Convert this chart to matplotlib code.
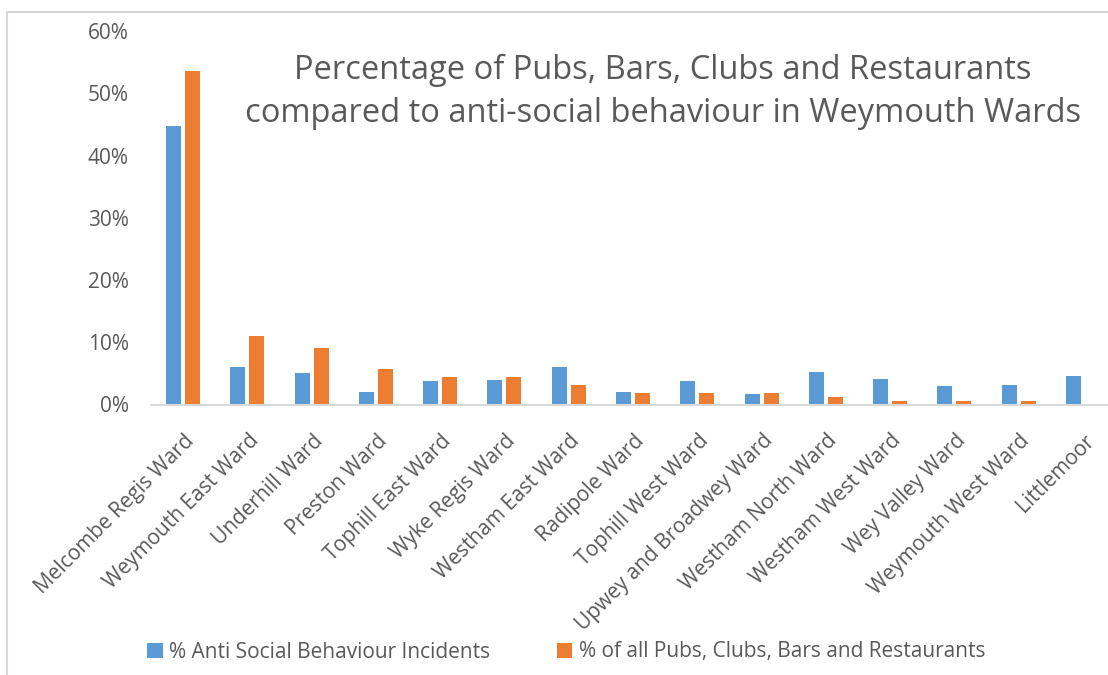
import matplotlib.pyplot as plt
import numpy as np
from matplotlib.patches import Rectangle
from matplotlib.ticker import FuncFormatter
from matplotlib.transforms import ScaledTranslation

plt.rcParams['font.family'] = ['Open Sans', 'DejaVu Sans']

wards = ['Melcombe Regis Ward', 'Weymouth East Ward', 'Underhill Ward', 'Preston Ward',
         'Tophill East Ward', 'Wyke Regis Ward', 'Westham East Ward', 'Radipole Ward',
         'Tophill West Ward', 'Upwey and Broadwey Ward', 'Westham North Ward',
         'Westham West Ward', 'Wey Valley Ward', 'Weymouth West Ward', 'Littlemoor']
asb_pct = [44.7, 6.0, 5.1, 2.0, 3.8, 3.9, 6.0, 2.0, 3.8, 1.7, 5.2, 4.1, 3.0, 3.1, 4.6]
pubs_pct = [53.6, 11.0, 9.1, 5.7, 4.4, 4.4, 3.1, 1.8, 1.8, 1.8, 1.2, 0.6, 0.6, 0.6, 0.0]
series_names = ['% Anti Social Behaviour Incidents', '% of all Pubs, Clubs, Bars and Restaurants']
y_ticks = [0, 10, 20, 30, 40, 50, 60]

BLUE = '#5B9BD5'
ORANGE = '#ED7D31'
GREY_TXT = '#595959'
GREY_LINE = '#D9D9D9'

fig = plt.figure(figsize=(11.08, 6.75), dpi=100)

# chart border (Excel chart area)
fig.patches.append(Rectangle((7 / 1108, -0.01), 1.1, (675 - 12) / 675 + 0.01,
                             transform=fig.transFigure, fill=False,
                             edgecolor=GREY_LINE, linewidth=1.5))

ax = fig.add_axes([151 / 1108, 270.5 / 675, 964 / 1108, 373.5 / 675])

x = np.arange(len(wards))
w = 0.233
ax.bar(x - 0.148, asb_pct, w, color=BLUE, label=series_names[0])
ax.bar(x + 0.148, pubs_pct, w, color=ORANGE, label=series_names[1])

ax.set_xlim(-0.5, len(wards) - 0.5)
ax.set_ylim(0, 60)
ax.set_yticks(y_ticks)
ax.yaxis.set_major_formatter(FuncFormatter(lambda v, p: f'{v:.0f}%'))
ax.tick_params(axis='y', length=0, pad=16, labelsize=15, labelcolor=GREY_TXT)

ax.set_xticks(x)
ax.set_xticklabels(wards, rotation=45, ha='right', va='center',
                   rotation_mode='anchor', fontsize=15, color=GREY_TXT)
ax.tick_params(axis='x', length=0, pad=24)
shift = ScaledTranslation(8 / 100, 0, fig.dpi_scale_trans)
for lbl in ax.get_xticklabels():
    lbl.set_transform(lbl.get_transform() + shift)

for s in ['top', 'right', 'left']:
    ax.spines[s].set_visible(False)
ax.spines['bottom'].set_color(GREY_LINE)
ax.spines['bottom'].set_linewidth(1.5)

fig.text(663 / 1108, 1 - 92 / 675,
         'Percentage of Pubs, Bars, Clubs and Restaurants\ncompared to anti-social behaviour in Weymouth Wards',
         ha='center', va='center', fontsize=23.5, color=GREY_TXT, linespacing=1.4)

fig.legend(loc='center', bbox_to_anchor=(566 / 1108, 1 - 652 / 675), ncol=2,
           frameon=False, fontsize=15, labelcolor=GREY_TXT, handlelength=0.75,
           handleheight=0.75, handletextpad=0.3, columnspacing=3.2)

fig.savefig('out.png', dpi=100)
